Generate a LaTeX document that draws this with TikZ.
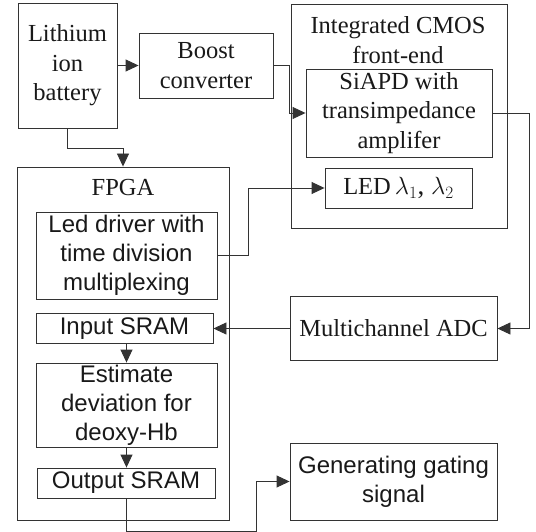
\documentclass[tikz,border=0pt]{standalone}
\usepackage{fontspec}
\setmainfont{Liberation Serif}
\setsansfont{Liberation Sans}
\usetikzlibrary{arrows.meta}
\tikzset{
  blk/.style={draw=black!80, line width=0.9pt, inner sep=0pt, align=center,
    text=black!90, font=\fontsize{24.5}{29.5}\selectfont},
  sblk/.style={blk, font=\sffamily\fontsize{24}{29}\selectfont},
  lbl/.style={inner sep=0pt, align=center, text=black!90, font=\fontsize{24.5}{29.5}\selectfont},
  wire/.style={draw=black!80, line width=0.9pt},
  arr/.style={wire, -{Triangle[length=13pt,width=12pt]}}
}
\begin{document}
\begin{tikzpicture}[x=1pt,y=-1pt]
\useasboundingbox (0,0) rectangle (536,532);

% containers
\node[blk, minimum width=216pt, minimum height=224pt] (cmos) at (399,116) {};
\node[lbl] (cmoslbl) at (398,40) {Integrated CMOS\\front-end};
\node[blk, minimum width=212pt, minimum height=353pt] (fpga) at (123,343.5) {};
\node[lbl] (fpgalbl) at (123,188) {FPGA};

% power and front-end blocks
\node[blk, minimum width=99pt, minimum height=125pt] (bat) at (67.5,65.5) {Lithium\\ion\\battery};
\node[blk, minimum width=134pt, minimum height=65pt] (boost) at (206,65.5) {Boost\\converter};
\node[blk, minimum width=186pt, minimum height=88pt] (siapd) at (399,113) {SiAPD with\\transimpedance\\amplifer};
\node[blk, minimum width=147pt, minimum height=40pt] (led) at (398.5,188)
  {LED\,{\fontsize{27}{30}\selectfont$\lambda_1$, $\lambda_2$}};
\node[blk, minimum width=207pt, minimum height=64pt] (adc) at (393.5,328.5) {Multichannel ADC};
\node[sblk, minimum width=207pt, minimum height=77pt] (gen) at (393.5,481.5) {Generating gating\\signal};

% FPGA internals
\node[sblk, minimum width=181pt, minimum height=87pt] (drv) at (126.5,255.5) {Led driver with\\time division\\multiplexing};
\node[sblk, minimum width=177pt, minimum height=30pt] (insram) at (124.5,328.5) {Input SRAM};
\node[sblk, minimum width=181pt, minimum height=84pt] (est) at (126.5,405) {Estimate\\deviation for\\deoxy-Hb};
\node[sblk, minimum width=178pt, minimum height=30pt] (outsram) at (126,483) {Output SRAM};

% connectors
\draw[arr] (bat.east |- boost.west) -- (boost.west);
\draw[arr] (bat.south) -- ++(0,20) -| (fpga.north);
\draw[arr] (boost.east) -- ++(16,0) |- (siapd.west);
\draw[arr] (siapd.east) -- ++(37,0) |- (adc.east);
\draw[arr] (drv.east) -- ++(31,0) |- (led.west);
\draw[arr] (adc.west) -- (adc.west -| insram.east);
\draw[arr] (est.north |- insram.south) -- (est.north);
\draw[arr] (est.south) -- (est.south |- outsram.north);
\draw[arr] (outsram.south) -- ++(0,33) -| ([xshift=-33pt]gen.west) -- (gen.west);
\end{tikzpicture}
\end{document}
